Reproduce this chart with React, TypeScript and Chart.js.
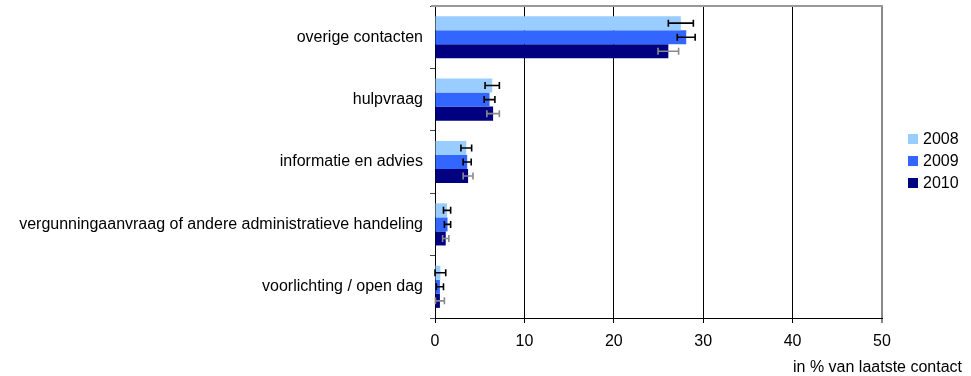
import React, { useEffect, useRef } from "react";
import { Chart, registerables } from "chart.js";

Chart.register(...registerables);

const categories = [
  "overige contacten",
  "hulpvraag",
  "informatie en advies",
  "vergunningaanvraag of andere administratieve handeling",
  "voorlichting / open dag",
];
const years = ["2008", "2009", "2010"];
const values2008 = [27.5, 6.4, 3.5, 1.35, 0.6];
const values2009 = [28.1, 6.1, 3.6, 1.4, 0.55];
const values2010 = [26.1, 6.5, 3.7, 1.2, 0.55];
const err2008 = [1.4, 0.8, 0.6, 0.4, 0.6];
const err2009 = [1.0, 0.6, 0.45, 0.35, 0.4];
const err2010 = [1.15, 0.7, 0.55, 0.35, 0.5];
const xTickValues = [0, 10, 20, 30, 40, 50];
const axisTitle = "in % van laatste contact";

const colors = ["#99CCFF", "#3366FF", "#000080"];
const errColors = ["#000000", "#000000", "#8a8a8a"];
const FONT = '"Liberation Sans", Arial, sans-serif';

export default function App() {
  const ref = useRef<HTMLCanvasElement>(null);

  useEffect(() => {
    const canvas = ref.current;
    if (!canvas) return;
    const errs = [err2008, err2009, err2010];

    const errorBars = {
      id: "errorBars",
      afterDatasetsDraw(chart: any) {
        const ctx = chart.ctx;
        const xs = chart.scales.x;
        chart.data.datasets.forEach((ds: any, i: number) => {
          const meta = chart.getDatasetMeta(i);
          meta.data.forEach((el: any, j: number) => {
            const v = ds.data[j];
            const e = errs[i][j];
            const x1 = xs.getPixelForValue(Math.max(0, v - e));
            const x2 = xs.getPixelForValue(v + e);
            const y = el.y;
            ctx.save();
            ctx.strokeStyle = errColors[i];
            ctx.lineWidth = 1.6;
            ctx.beginPath();
            ctx.moveTo(x1, y);
            ctx.lineTo(x2, y);
            ctx.moveTo(x1, y - 3.5);
            ctx.lineTo(x1, y + 3.5);
            ctx.moveTo(x2, y - 3.5);
            ctx.lineTo(x2, y + 3.5);
            ctx.stroke();
            ctx.restore();
          });
        });
      },
    };

    const extras = {
      id: "extras",
      afterDraw(chart: any) {
        const ctx = chart.ctx;
        const a = chart.chartArea;
        ctx.save();
        // top border
        ctx.strokeStyle = "#999999";
        ctx.lineWidth = 2;
        ctx.beginPath();
        ctx.moveTo(a.left - 4, a.top);
        ctx.lineTo(a.right + 1, a.top);
        ctx.stroke();
        // legend
        ctx.font = `16px ${FONT}`;
        ctx.textBaseline = "middle";
        ctx.textAlign = "left";
        const rows = [139, 161, 183];
        years.forEach((y, i) => {
          ctx.fillStyle = colors[i];
          ctx.fillRect(908, rows[i] - 5, 10, 10);
          ctx.fillStyle = "#000000";
          ctx.fillText(y, 923, rows[i] + 1);
        });
        // axis title
        ctx.textAlign = "right";
        ctx.fillText(axisTitle, 962, 368);
        ctx.restore();
      },
    };

    const chart = new Chart(canvas, {
      type: "bar",
      data: {
        labels: categories,
        datasets: [values2008, values2009, values2010].map((d, i) => ({
          label: years[i],
          data: d,
          backgroundColor: colors[i],
          borderWidth: 0,
          categoryPercentage: 0.675,
          barPercentage: 1.0,
        })),
      },
      options: {
        indexAxis: "y",
        responsive: false,
        animation: false,
        devicePixelRatio: 1,
        layout: { padding: { top: 6, right: 89, left: 0, bottom: 0 } },
        plugins: {
          legend: { display: false },
          tooltip: { enabled: false },
        },
        scales: {
          x: {
            type: "linear",
            min: 0,
            max: 50,
            afterBuildTicks: (scale: any) => {
              scale.ticks = xTickValues.map((v) => ({ value: v }));
            },
            afterFit: (scale: any) => {
              scale.height = 58;
            },
            ticks: {
              color: "#000000",
              font: { family: FONT, size: 16 },
              padding: 9,
              maxRotation: 0,
            },
            grid: {
              color: (c: any) => (c.tick && c.tick.value === 50 ? "#888888" : "#000000"),
              lineWidth: (c: any) => (c.tick && c.tick.value === 50 ? 2 : 1),
              tickLength: 5,
            },
            border: { display: true, color: "#000000", width: 1 },
          },
          y: {
            type: "category",
            afterFit: (scale: any) => {
              scale.width = 435;
              scale.paddingTop = 0;
              scale.paddingBottom = 0;
            },
            ticks: {
              color: "#000000",
              font: { family: FONT, size: 16 },
              padding: 7,
              autoSkip: false,
            },
            grid: {
              drawOnChartArea: false,
              color: "#444444",
              tickLength: 5,
              offset: true,
            },
            border: { display: true, color: "#000000", width: 1 },
          },
        },
      },
      plugins: [errorBars, extras],
    });
    return () => chart.destroy();
  }, []);

  return (
    <div style={{ position: "fixed", left: 0, top: 0, width: 971, height: 376, background: "#fff" }}>
      <canvas ref={ref} width={971} height={376} style={{ width: 971, height: 376, display: "block" }} />
    </div>
  );
}
